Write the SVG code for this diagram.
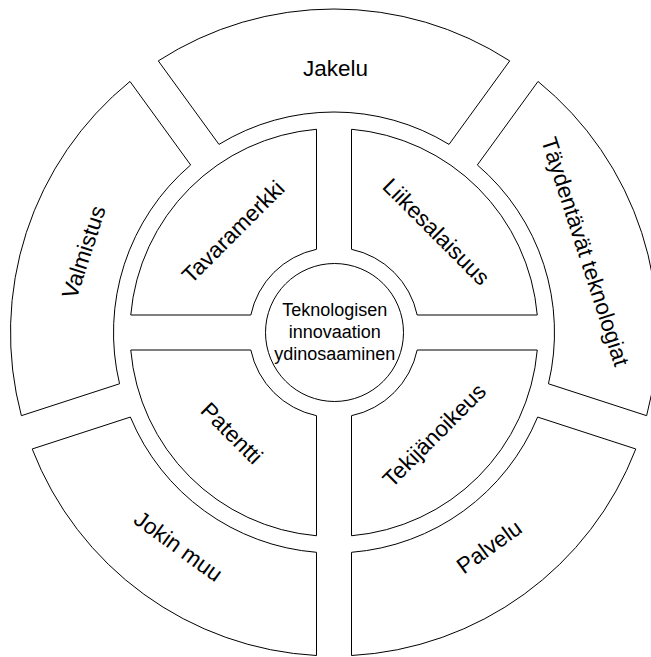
<svg xmlns="http://www.w3.org/2000/svg" width="651" height="657" viewBox="0 0 651 657">
<style>
.seg{fill:#ffffff;stroke:#000000;stroke-width:1}
.lbl{font-family:"Liberation Sans",Arial,sans-serif;font-size:22.5px;fill:#000000;text-anchor:middle}
.ctr{font-family:"Liberation Sans",Arial,sans-serif;font-size:18px;fill:#000000;text-anchor:middle}
</style>
<rect x="0" y="0" width="651" height="657" fill="#ffffff"/>
<g id="jakelu">
<path class="seg" d="M 158.29 60.88 A 323.5 323.5 0 0 1 509.71 60.88 L 449.04 144.39 A 220.5 220.5 0 0 0 218.96 144.39 Z"/>
<text class="lbl" x="335.5" y="76">Jakelu</text>
</g>
<g id="taydentavat">
<path class="seg" d="M 538.03 81.45 A 323.5 323.5 0 0 1 646.63 415.68 L 548.45 383.78 A 220.5 220.5 0 0 0 477.35 164.96 Z"/>
<text class="lbl" transform="translate(585.6,251.5) rotate(72)" x="0" y="8">Täydentävät teknologiat</text>
</g>
<g id="palvelu">
<path class="seg" d="M 635.81 448.97 A 323.5 323.5 0 0 1 351.5 655.53 L 351.5 552.3 A 220.5 220.5 0 0 0 537.63 417.07 Z"/>
<text class="lbl" transform="translate(489,546.5) rotate(-36)" x="0" y="8">Palvelu</text>
</g>
<g id="jokin-muu">
<path class="seg" d="M 316.5 655.53 A 323.5 323.5 0 0 1 32.19 448.97 L 130.37 417.07 A 220.5 220.5 0 0 0 316.5 552.3 Z"/>
<text class="lbl" transform="translate(178.5,546) rotate(36)" x="0" y="8">Jokin muu</text>
</g>
<g id="valmistus">
<path class="seg" d="M 21.37 415.68 A 323.5 323.5 0 0 1 129.97 81.45 L 190.65 164.96 A 220.5 220.5 0 0 0 119.55 383.78 Z"/>
<text class="lbl" transform="translate(83.5,252) rotate(-72)" x="0" y="8">Valmistus</text>
</g>
<g id="tavaramerkki">
<path class="seg" d="M 130.75 315 A 204 204 0 0 1 316.5 129.25 L 316.5 249.32 A 85 85 0 0 0 250.82 315 Z"/>
<text class="lbl" transform="translate(233,231.5) rotate(-45)" x="0" y="8">Tavaramerkki</text>
</g>
<g id="liikesalaisuus">
<path class="seg" d="M 351.5 129.25 A 204 204 0 0 1 537.25 315 L 417.18 315 A 85 85 0 0 0 351.5 249.32 Z"/>
<text class="lbl" transform="translate(436.5,231.5) rotate(45)" x="0" y="8">Liikesalaisuus</text>
</g>
<g id="tekijanoikeus">
<path class="seg" d="M 537.25 350 A 204 204 0 0 1 351.5 535.75 L 351.5 415.68 A 85 85 0 0 0 417.18 350 Z"/>
<text class="lbl" transform="translate(434,435) rotate(-45)" x="0" y="8">Tekijänoikeus</text>
</g>
<g id="patentti">
<path class="seg" d="M 316.5 535.75 A 204 204 0 0 1 130.75 350 L 250.82 350 A 85 85 0 0 0 316.5 415.68 Z"/>
<text class="lbl" transform="translate(232,433) rotate(45)" x="0" y="8">Patentti</text>
</g>
<g id="ydinosaaminen">
<circle class="seg" cx="334.5" cy="332.5" r="69"/>
<text class="ctr" x="334.8" y="316">Teknologisen</text>
<text class="ctr" x="334.8" y="338">innovaation</text>
<text class="ctr" x="334.8" y="360">ydinosaaminen</text>
</g>
</svg>
